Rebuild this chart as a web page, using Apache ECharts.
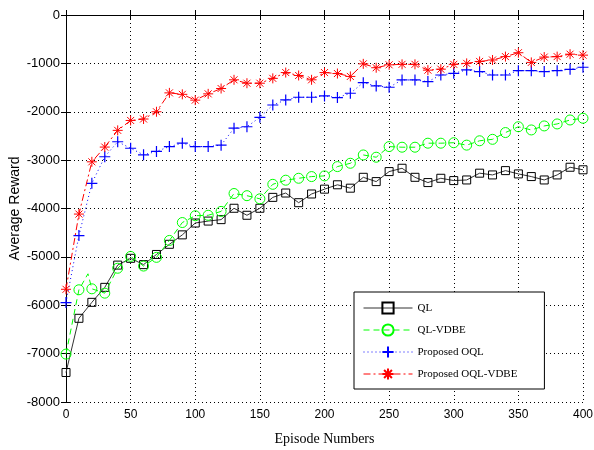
<!DOCTYPE html>
<html>
<head>
<meta charset="utf-8">
<script src="https://cdn.jsdelivr.net/npm/echarts@6/dist/echarts.min.js"></script>
<style>html,body{margin:0;padding:0;background:#fff}#c{width:594px;height:450px}</style>
</head>
<body>
<div id="c"></div>
<script>
var episodes = [0,10,20,30,40,50,60,70,80,90,100,110,120,130,140,150,160,170,180,190,200,210,220,230,240,250,260,270,280,290,300,310,320,330,340,350,360,370,380,390,400];
var qlValues = [-7390,-6270,-5940,-5630,-5170,-5030,-5160,-4950,-4740,-4545,-4300,-4260,-4230,-3995,-4140,-3995,-3770,-3680,-3880,-3700,-3600,-3510,-3580,-3355,-3444,-3237,-3168,-3355,-3464,-3375,-3423,-3410,-3270,-3306,-3217,-3285,-3340,-3410,-3306,-3147,-3200];
var qlVdbeValues = [-7010,-5680,-5660,-5750,-5235,-4990,-5190,-5010,-4660,-4290,-4150,-4140,-4060,-3690,-3735,-3800,-3500,-3415,-3375,-3340,-3326,-3134,-3065,-2893,-2940,-2720,-2733,-2733,-2650,-2650,-2640,-2690,-2600,-2570,-2430,-2310,-2376,-2293,-2252,-2170,-2135];
var oqlValues = [-5944,-4560,-3480,-2930,-2620,-2755,-2890,-2820,-2720,-2650,-2720,-2720,-2690,-2340,-2310,-2115,-1860,-1756,-1700,-1700,-1673,-1708,-1618,-1398,-1467,-1494,-1343,-1343,-1377,-1240,-1205,-1136,-1170,-1240,-1240,-1150,-1150,-1170,-1150,-1122,-1080];
var oqlVdbeValues = [-5670,-4115,-3035,-2730,-2385,-2180,-2150,-2000,-1610,-1640,-1760,-1630,-1520,-1340,-1410,-1410,-1310,-1190,-1250,-1340,-1190,-1210,-1270,-1010,-1090,-1030,-1020,-1020,-1140,-1120,-1020,-1000,-960,-930,-860,-780,-980,-870,-860,-810,-830];
var qlVdbeExtra = {x: 17, y: -5350};
var seriesNames = ['QL', 'QL-VDBE', 'Proposed OQL', 'Proposed OQL-VDBE'];
var xTicks = [0,50,100,150,200,250,300,350,400];
var yTicks = [0,-1000,-2000,-3000,-4000,-5000,-6000,-7000,-8000];

function pairs(vals){ return episodes.map(function(e,i){ return [e, vals[i]]; }); }
var greenData = pairs(qlVdbeValues);
greenData.splice(2, 0, {value:[qlVdbeExtra.x, qlVdbeExtra.y], symbol:'none'});

var plus = 'path://M5,0 L5,10 M0,5 L10,5';
var star = 'path://M5,0 L5,10 M0,5 L10,5 M1.5,1.5 L8.5,8.5 M8.5,1.5 L1.5,8.5';

var chart = echarts.init(document.getElementById('c'), null, {renderer:'canvas'});
var axisLine = {show:true, lineStyle:{color:'#000', width:1}};
var gridLine = {show:true, lineStyle:{color:'#000', type:[1,3], width:1}};
chart.setOption({
  animation:false,
  backgroundColor:'#fff',
  grid:{left:66, right:11, top:15, bottom:48, containLabel:false, outerBoundsMode:'none'},
  legend:{
    orient:'vertical', left:354, top:292,
    backgroundColor:'#fff', borderColor:'#000', borderWidth:1,
    padding:[9,27,8,9], itemWidth:49, itemHeight:14, itemGap:8,
    lineStyle:{width:1},
    textStyle:{fontFamily:'Liberation Serif', fontSize:11, color:'#000', lineHeight:14},
    data:seriesNames
  },
  xAxis:[{
    type:'value', min:0, max:400, interval:50,
    name:'Episode Numbers', nameLocation:'middle', nameGap:30, nameMoveOverlap:false,
    nameTextStyle:{fontFamily:'Liberation Serif', fontSize:14, color:'#000'},
    axisLine:axisLine, axisTick:{show:true, inside:true, length:5, lineStyle:{color:'#000'}},
    axisLabel:{fontFamily:'Liberation Sans', fontSize:12, color:'#000', margin:7,
      formatter:function(v){ return String(v); }},
    splitLine:gridLine
  },{
    type:'value', position:'top', min:0, max:400, interval:50,
    axisLine:axisLine, axisTick:{show:true, inside:true, length:5, lineStyle:{color:'#000'}},
    axisLabel:{show:false}, splitLine:{show:false}
  }],
  yAxis:[{
    type:'value', min:-8000, max:0, interval:1000,
    name:'Average Reward', nameLocation:'middle', nameGap:44, nameRotate:90, nameMoveOverlap:false,
    nameTextStyle:{fontFamily:'Liberation Sans', fontSize:14, color:'#000'},
    axisLine:axisLine, axisTick:{show:true, inside:true, length:5, lineStyle:{color:'#000'}},
    axisLabel:{fontFamily:'Liberation Sans', fontSize:13, color:'#000', margin:6,
      formatter:function(v){ return String(v); }},
    splitLine:gridLine
  },{
    type:'value', position:'right', min:-8000, max:0, interval:1000,
    axisLine:axisLine, axisTick:{show:true, inside:true, length:5, lineStyle:{color:'#000'}},
    axisLabel:{show:false}, splitLine:{show:false}
  }],
  series:[
    {name:seriesNames[0], type:'line', data:pairs(qlValues), symbol:'rect', symbolSize:8,
     lineStyle:{color:'#333', width:1, type:'solid'},
     itemStyle:{color:'rgba(0,0,0,0)', borderColor:'#000', borderWidth:1, opacity:1},
     emphasis:{disabled:true}, z:2},
    {name:seriesNames[1], type:'line', data:greenData, symbol:'circle', symbolSize:10,
     lineStyle:{color:'#00ff00', width:1, type:[6,4]},
     itemStyle:{color:'rgba(0,0,0,0)', borderColor:'#00ff00', borderWidth:1},
     emphasis:{disabled:true}, z:3},
    {name:seriesNames[2], type:'line', data:pairs(oqlValues), symbol:plus, symbolSize:11,
     lineStyle:{color:'#0000ff', width:1, type:[1,3]},
     itemStyle:{color:'#0000ff', borderColor:'#0000ff', borderWidth:1.2},
     emphasis:{disabled:true}, z:4},
    {name:seriesNames[3], type:'line', data:pairs(oqlVdbeValues), symbol:star, symbolSize:10,
     lineStyle:{color:'#ff0000', width:1, type:[7,3,2,3]},
     itemStyle:{color:'#ff0000', borderColor:'#ff0000', borderWidth:1},
     emphasis:{disabled:true}, z:5}
  ]
});
</script>
</body>
</html>
